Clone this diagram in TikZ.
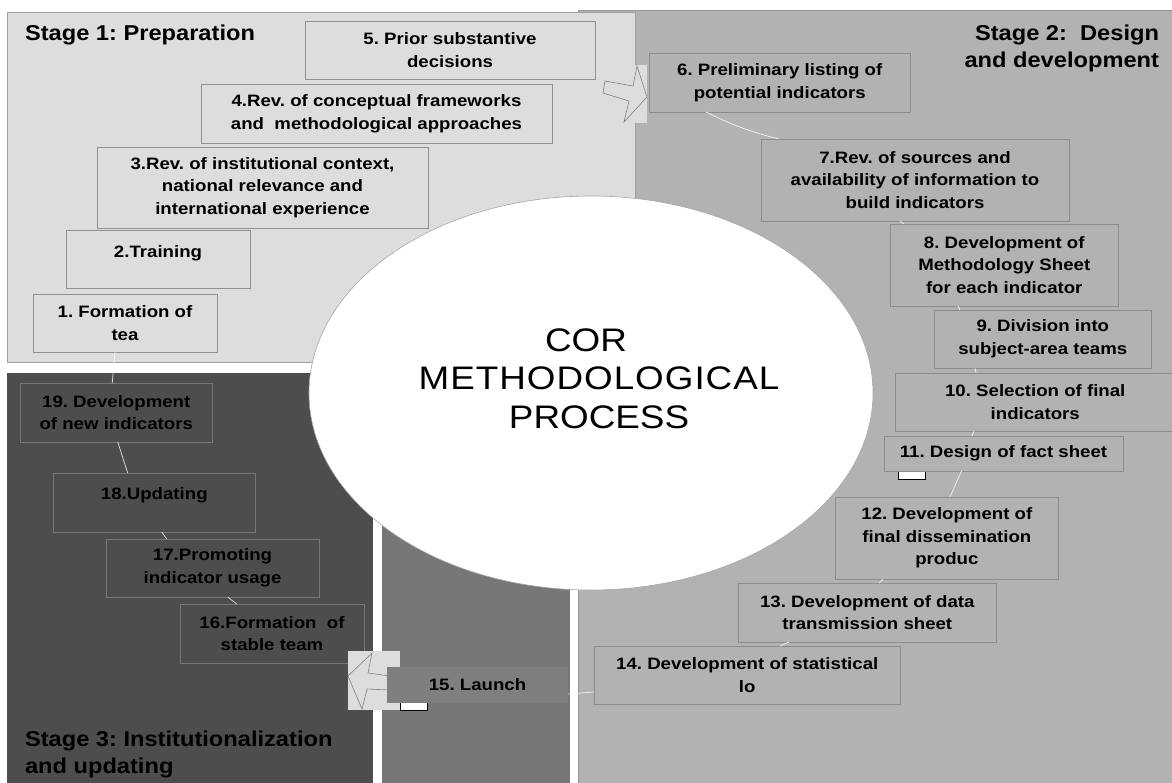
\documentclass[tikz,border=0pt]{standalone}
\usepackage{fontspec}
\newfontfamily\lbl{Liberation Sans}[FakeStretch=1.13]
\newfontfamily\titlefont{Liberation Sans}[FakeStretch=1.10]
\newfontfamily\corefont{Liberation Sans}[FakeStretch=1.13]

\definecolor{pOne}{RGB}{221,221,221}
\definecolor{pTwo}{RGB}{178,178,178}
\definecolor{pThree}{RGB}{77,77,77}
\definecolor{pMid}{RGB}{119,119,119}
\definecolor{launchfill}{RGB}{127,127,127}
\definecolor{bOne}{RGB}{145,145,145}
\definecolor{bTwo}{RGB}{140,140,140}
\definecolor{bThree}{RGB}{120,120,120}
\definecolor{edgeOne}{RGB}{160,160,160}
\definecolor{edgeTwo}{RGB}{150,150,150}
\definecolor{arrowline}{RGB}{128,128,128}

\tikzset{
  every node/.style={inner sep=0pt, outer sep=0pt},
  stepbase/.style={rectangle, align=center, line width=0.8pt, text=black,
    font=\lbl\bfseries\fontsize{16.5}{22.7}\selectfont},
  sone/.style={stepbase, fill=pOne, draw=bOne},
  stwo/.style={stepbase, fill=pTwo, draw=bTwo},
  sthree/.style={stepbase, fill=pThree, draw=bThree},
  slaunch/.style={stepbase, fill=launchfill},
  link/.style={draw=white, draw opacity=0.85, line width=0.7pt},
  stagetitle/.style={font=\titlefont\bfseries\fontsize{21.5}{27}\selectfont, text=black},
  blockarrow/.style={fill=pOne, draw=arrowline, line width=0.6pt, line join=miter},
  marker/.style={fill=white, draw=black, line width=0.9pt},
}

% box from its corners (x1,y1)-(x2,y2), y measured downwards
\newcommand\procbox[7]{%
  \pgfmathsetmacro\pbx{(#3+#5)/2}%
  \pgfmathsetmacro\pby{(#4+#6)/2}%
  \pgfmathsetmacro\pbw{#5-#3}%
  \pgfmathsetmacro\pbh{#6-#4}%
  \node[#2, minimum width=\pbw pt, minimum height=\pbh pt] (#1) at (\pbx,\pby) {#7};}

\begin{document}
\frenchspacing
\begin{tikzpicture}[x=1pt, y=-1pt]
\useasboundingbox (0,0) rectangle (1172,782);

% stage panels
\fill[pTwo] (578,10) rectangle (1180,790);
\draw[edgeTwo, line width=0.8pt] (1180,10) -- (578,10) -- (578,790);
\fill[pThree] (7,372.7) rectangle (373,790);
\fill[pMid] (382,450) rectangle (570,790);
\draw[edgeOne, line width=0.8pt, fill=pOne] (7,12) rectangle (635,362);

% central ellipse
\draw[fill=white, draw=gray!70, line width=0.6pt] (591,393) ellipse [x radius=282pt, y radius=197pt];

% markers partly covered by the step boxes
\draw[marker] (898,466) rectangle (925,479);

% stage 1 steps
\procbox{b1}{sone}{33}{294}{217}{352}{1. Formation of\\tea}
\procbox{b2}{sone, text height=10pt, text depth=14pt}{66}{230}{250}{288}{2.Training}
\procbox{b3}{sone}{97}{147}{428}{228}{3.Rev. of institutional context,\\national relevance and\\international experience}
\procbox{b4}{sone}{201}{84}{552}{143}{4.Rev. of conceptual frameworks\\and\ \ methodological approaches}
\procbox{b5}{sone}{305}{21}{595}{79}{5. Prior substantive\\decisions}

% stage 2 steps
\procbox{b6}{stwo}{649}{53}{910.5}{112}{6. Preliminary listing of\\potential indicators}
\procbox{b7}{stwo}{761}{139}{1069}{221}{7.Rev. of sources and\\availability of information to\\build indicators}
\procbox{b8}{stwo}{890.5}{224}{1118}{306}{8. Development of\\Methodology Sheet\\for each indicator}
\procbox{b9}{stwo}{934}{310}{1151.6}{368}{9. Division into\\subject-area teams}
\procbox{b10}{stwo}{895.5}{373}{1175}{431}{10. Selection of final\\indicators}
\procbox{b11}{stwo}{884}{436}{1123}{471}{11. Design of fact sheet}
\procbox{b12}{stwo}{835}{497}{1058.7}{579}{12. Development of\\final dissemination\\produc}
\procbox{b13}{stwo}{738}{583}{996.5}{642}{13. Development of data\\transmission sheet}
\procbox{b14}{stwo}{594}{646}{900.5}{704}{14. Development of statistical\\lo}

% stage 3 steps
\procbox{b16}{sthree}{180}{604}{364}{663}{16.Formation\ \ of\\stable team}
\procbox{b17}{sthree}{106}{539}{319}{597}{17.Promoting\\indicator usage}
\procbox{b18}{sthree, text height=10pt, text depth=17pt}{53.6}{473}{255}{532}{18.Updating}
\procbox{b19}{sthree}{20.5}{383}{212}{442}{19. Development\\of new indicators}

% thin links between consecutive steps
\draw[link] ([xshift=-73.75pt]b6.south) to[bend right=6] ([xshift=-136pt]b7.north);
\draw[link] ([xshift=-15pt]b7.south) -- ([xshift=-100.25pt]b8.north);
\draw[link] ([xshift=-46.25pt]b8.south) -- ([xshift=-82.8pt]b9.north);
\draw[link] ([xshift=-67.8pt]b9.south) -- ([xshift=-59.25pt]b10.north);
\draw[link] ([xshift=-61.25pt]b10.south) -- ([xshift=-31.5pt]b11.north);
\draw[link] ([xshift=-42pt]b11.south) -- ([xshift=3.15pt]b12.north);
\draw[link] ([xshift=-63.85pt]b12.south) -- ([xshift=11.75pt]b13.north);
\draw[link] ([xshift=-78.25pt]b13.south) -- ([xshift=32.75pt]b14.north);
\draw[link] ([xshift=15.2pt]b17.south) -- ([xshift=-35.3pt]b16.north);
\draw[link] ([xshift=7.4pt]b18.south) -- ([xshift=-45.8pt]b17.north);
\draw[link] ([xshift=1.5pt]b19.south) -- ([xshift=-26.6pt]b18.north);
\draw[link] ([xshift=-10pt]b1.south) -- ([xshift=-4pt]b19.north);

% block arrows between stages
\fill[pOne] (600,65) rectangle (647,123);
\draw[blockarrow] (605,81) -- (633,86) -- (637,66) -- (647,97) -- (624,122) -- (629,101) -- (603,93) -- cycle;
\fill[pOne] (348,651) rectangle (400,710);
\draw[blockarrow] (348,676) -- (372,653) -- (368,673) -- (390,676) -- (390,690) -- (367,689) -- (362,709) -- cycle;
\draw[marker] (400,698) rectangle (427,710);

% launch step, laid over its arrow
\procbox{b15}{slaunch}{387}{667}{568}{703}{15. Launch}
\draw[link] ([yshift=-17pt]b14.west) -- ([yshift=-9pt]b15.east);

% stage titles
\node[stagetitle, anchor=base west] (t1) at (25,40.7) {Stage 1: Preparation};
\node[stagetitle, align=right, anchor=north east] (t2) at (1159,24.8) {Stage 2:\ \ Design\\and development};
\node[stagetitle, align=left, anchor=north west] (t3) at (25,730.5) {Stage 3: Institutionalization\\and updating};

% centre label
\node[font=\corefont\fontsize{32.6}{38.3}\selectfont, align=center, text=black] (coretext) at (599,378.5)
  {COR\hspace*{26pt}\\{\addfontfeature{LetterSpace=3}METHODOLOGICAL}\\PROCESS};
\end{tikzpicture}
\end{document}
